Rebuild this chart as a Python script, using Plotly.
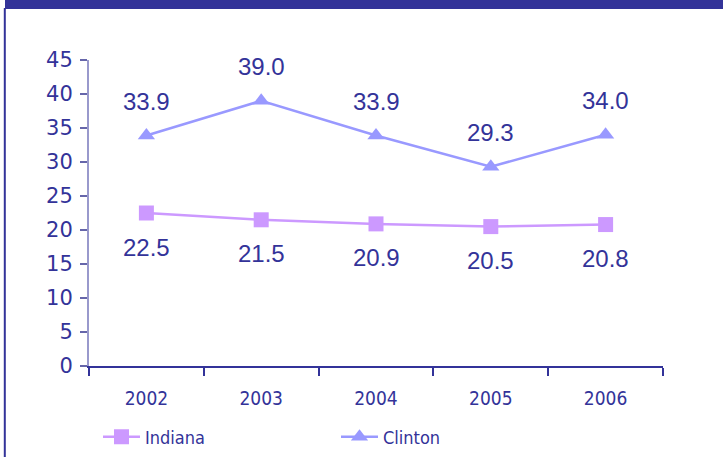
import plotly.graph_objects as go

years = ["2002", "2003", "2004", "2005", "2006"]
indiana = [22.5, 21.5, 20.9, 20.5, 20.8]
clinton = [33.9, 39.0, 33.9, 29.3, 34.0]
y_ticks = [0, 5, 10, 15, 20, 25, 30, 35, 40, 45]

W, H = 723, 457
L, R, T, B = 89, 60, 60, 91
pw, ph = W - L - R, H - T - B

def px(x):
    return (x - L) / pw

def py(y):
    return (H - B - y) / ph

DARK = "#333399"

fig = go.Figure()
fig.add_trace(go.Scatter(
    x=years, y=indiana, name="Indiana", mode="lines+markers",
    line=dict(color="#CC99FF", width=2.5),
    marker=dict(symbol="square", size=15, color="#CC99FF"),
))
fig.add_trace(go.Scatter(
    x=years, y=clinton, name="Clinton", mode="lines+markers",
    line=dict(color="#9999FF", width=2.5),
    marker=dict(symbol="triangle-up", size=15, color="#9999FF"),
))

annos = []
for i, v in enumerate(clinton):
    annos.append(dict(x=i, y=v, xref="x", yref="y", text=f"{v:.1f}", showarrow=False, yshift=34,
                      font=dict(family="Liberation Sans, Arial", size=24, color=DARK)))
for i, v in enumerate(indiana):
    annos.append(dict(x=i, y=v, xref="x", yref="y", text=f"{v:.1f}", showarrow=False, yshift=-34,
                      font=dict(family="Liberation Sans, Arial", size=24, color=DARK)))

shapes = [
    dict(type="rect", xref="paper", yref="paper", x0=px(5), x1=px(W + 2), y0=py(9), y1=py(-2),
         fillcolor=DARK, line=dict(width=0), layer="above"),
    dict(type="line", xref="paper", yref="paper", x0=px(4.8), x1=px(4.8), y0=py(8), y1=py(H + 2),
         line=dict(color=DARK, width=2)),
]

fig.update_layout(
    width=W, height=H,
    margin=dict(l=L, r=R, t=T, b=B, autoexpand=False),
    paper_bgcolor="white", plot_bgcolor="white",
    showlegend=True,
    legend=dict(orientation="h", x=98 / W, xref="container", xanchor="left",
                y=1 - 437 / H, yref="container", yanchor="middle",
                entrywidth=186, entrywidthmode="pixels", itemwidth=37,
                font=dict(family="DejaVu Sans Condensed", size=18, color=DARK),
                bgcolor="rgba(0,0,0,0)"),
    annotations=annos,
    shapes=shapes,
)
fig.update_xaxes(
    type="category", range=[-0.5, 4.5], tickson="boundaries",
    showline=True, linecolor=DARK, linewidth=2,
    ticks="outside", ticklen=8, tickcolor=DARK, tickwidth=1.5,
    showgrid=False, zeroline=False,
    tickfont=dict(family="DejaVu Sans Condensed", size=19, color=DARK),
    ticklabelstandoff=14,
)
fig.update_yaxes(
    range=[0, 45], tickvals=y_ticks, ticktext=[str(t) for t in y_ticks],
    showline=True, linecolor="#9999CC", linewidth=2,
    ticks="outside", ticklen=7, tickcolor="#6666AA", tickwidth=1.5,
    showgrid=False, zeroline=False,
    tickfont=dict(family="DejaVu Sans, Verdana", size=21, color=DARK),
    ticklabelstandoff=3,
)

fig.write_html("out.html", config={"displayModeBar": False},
               post_script="document.body.style.margin='0';")
